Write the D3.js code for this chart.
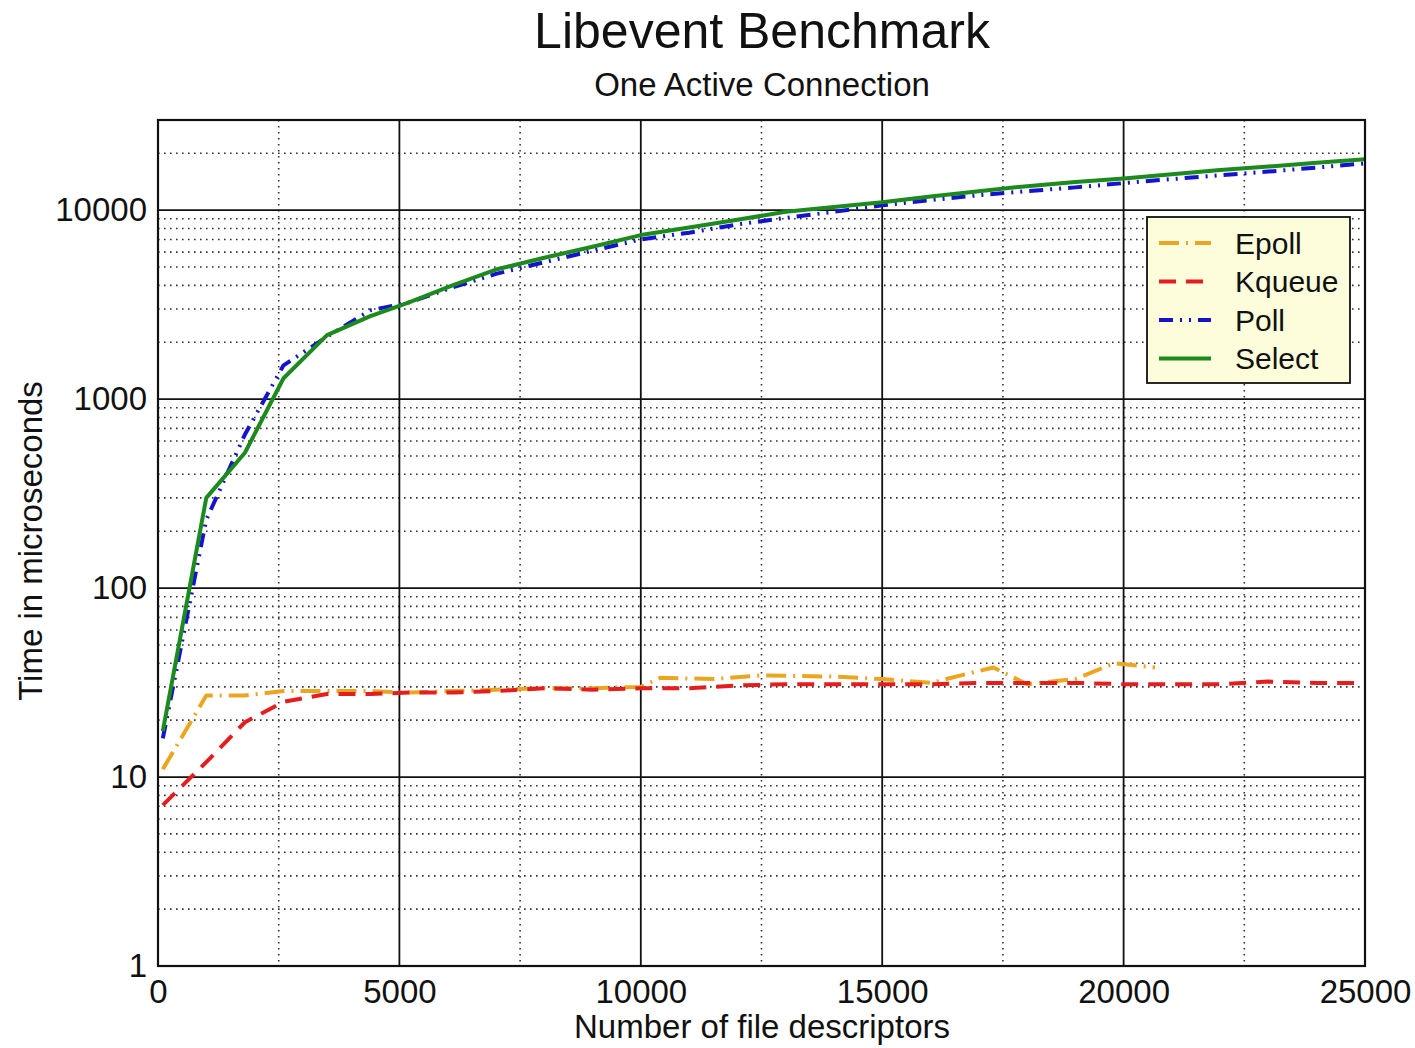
<!DOCTYPE html>
<html>
<head>
<meta charset="utf-8">
<script src="https://cdn.jsdelivr.net/npm/d3@7.9.0/dist/d3.min.js"></script>
<style>
  body { margin: 0; background: #fff; }
  svg { display: block; font-family: "Liberation Sans", Arial, sans-serif; }
</style>
</head>
<body>
<svg id="chart" width="1415" height="1048"></svg>
<script>
// --- data ---
const fds = [100, 1000, 1800, 2600, 3500, 4400, 5200, 6100, 7000, 8000, 9000, 10000,
  11000, 12000, 13000, 14000, 15000, 16000, 17000, 18000, 19000, 20000, 21000, 22000,
  23000, 24000, 25000];

const kqueue = [7.1, 12, 19.5, 25, 27.5, 27.5, 28, 28, 28.5, 29.5, 29, 29.5,
  29.5, 30.5, 31, 31, 31, 31, 31.5, 31.5, 31.5, 31, 31, 31, 32, 31.5, 31.5];

const poll = [16, 230, 650, 1510, 2140, 2950, 3250, 3900, 4600, 5300, 6100, 7000,
  7600, 8400, 9100, 9800, 10600, 11300, 12000, 12600, 13200, 13900, 14600, 15300,
  16000, 16800, 17700];

const select = [17.5, 300, 520, 1290, 2180, 2750, 3250, 4000, 4850, 5600, 6400, 7380,
  8100, 8900, 9800, 10400, 11000, 11800, 12600, 13400, 14100, 14700, 15500, 16300,
  17000, 17800, 18600];

// epoll was sampled on its own points and stops early
const epollFds = [100, 1000, 1800, 2600, 3500, 4400, 5200, 6100, 7000, 8000, 9000, 10000,
  10400, 11500, 12500, 14000, 15000, 16000, 17300, 18000, 19000, 19800, 20650];
const epoll = [11, 27, 27, 28.5, 28.5, 28.5, 28, 28.5, 29, 29.5, 29.5, 30,
  33.5, 33, 34.5, 34, 33, 31.5, 38, 31, 33, 40, 38];

const xTicks = [0, 5000, 10000, 15000, 20000, 25000];
const xMinor = [2500, 7500, 12500, 17500, 22500];
const yTicks = [1, 10, 100, 1000, 10000];

const seriesNames = ['Epoll', 'Kqueue', 'Poll', 'Select'];
const seriesColors = ['#eba520', '#e41e1e', '#1414cc', '#1c8a1c'];
const seriesDash = ['20,7,2,7', '17,10', '14,7,2,7,2,7', null];

// --- layout ---
const svg = d3.select('#chart');
const plotLeft = 158, plotRight = 1365, plotTop = 120, plotBottom = 966;

const x = d3.scaleLinear().domain([0, 25000]).range([plotLeft, plotRight]);
const y = d3.scaleLog().domain([1, 30000]).range([plotBottom, plotTop]);

// minor grid
let yMinor = [];
yTicks.forEach(d => {
  for (let k = 2; k <= 9; k++) {
    if (d * k < 30000) yMinor.push(d * k);
  }
});

const grid = svg.append('g');
grid.selectAll('.hminor').data(yMinor).join('line')
  .attr('x1', plotLeft).attr('x2', plotRight)
  .attr('y1', d => y(d)).attr('y2', d => y(d))
  .attr('stroke', '#333').attr('stroke-width', 1.6)
  .attr('stroke-dasharray', '1.6,4.4');

grid.selectAll('.vminor').data(xMinor).join('line')
  .attr('x1', d => x(d)).attr('x2', d => x(d))
  .attr('y1', plotTop).attr('y2', plotBottom)
  .attr('stroke', '#333').attr('stroke-width', 1.6)
  .attr('stroke-dasharray', '1.6,4.4');

// major grid
grid.selectAll('.hmajor').data(yTicks).join('line')
  .attr('x1', plotLeft).attr('x2', plotRight)
  .attr('y1', d => y(d)).attr('y2', d => y(d))
  .attr('stroke', '#111').attr('stroke-width', 1.8);

grid.selectAll('.vmajor').data(xTicks).join('line')
  .attr('x1', d => x(d)).attr('x2', d => x(d))
  .attr('y1', plotTop).attr('y2', plotBottom)
  .attr('stroke', '#111').attr('stroke-width', 1.8);

// axes (labels only, grid does the lines)
const xAxis = svg.append('g')
  .attr('transform', `translate(0,${plotBottom})`)
  .call(d3.axisBottom(x).tickValues(xTicks).tickSize(0).tickPadding(14).tickFormat(d3.format('d')));
xAxis.select('.domain').remove();
xAxis.selectAll('text').attr('font-size', 33).attr('fill', '#111')
  .attr('font-family', '"Liberation Sans", Arial, sans-serif');

const yAxis = svg.append('g')
  .attr('transform', `translate(${plotLeft},0)`)
  .call(d3.axisLeft(y).tickValues(yTicks).tickSize(0).tickPadding(11).tickFormat(d3.format('d')));
yAxis.select('.domain').remove();
yAxis.selectAll('text').attr('font-size', 33).attr('fill', '#111')
  .attr('font-family', '"Liberation Sans", Arial, sans-serif');

// lines
svg.append('clipPath').attr('id', 'plot-clip')
  .append('rect').attr('x', plotLeft).attr('y', plotTop)
  .attr('width', plotRight - plotLeft).attr('height', plotBottom - plotTop);

const lines = svg.append('g').attr('clip-path', 'url(#plot-clip)');
const seriesData = [
  epollFds.map((f, i) => [f, epoll[i]]),
  fds.map((f, i) => [f, kqueue[i]]),
  fds.map((f, i) => [f, poll[i]]),
  fds.map((f, i) => [f, select[i]])
];

const line = d3.line().x(d => x(d[0])).y(d => y(d[1]));

seriesData.forEach((pts, idx) => {
  lines.append('path')
    .attr('d', line(pts))
    .attr('fill', 'none')
    .attr('stroke', seriesColors[idx])
    .attr('stroke-width', 4)
    .attr('stroke-linejoin', 'round')
    .attr('stroke-dasharray', seriesDash[idx]);
});

// frame
svg.append('rect')
  .attr('x', plotLeft).attr('y', plotTop)
  .attr('width', plotRight - plotLeft).attr('height', plotBottom - plotTop)
  .attr('fill', 'none').attr('stroke', '#111').attr('stroke-width', 2.2);

// titles
svg.append('text').attr('x', 762).attr('y', 48)
  .attr('text-anchor', 'middle').attr('font-size', 50).attr('fill', '#111')
  .text('Libevent Benchmark');
svg.append('text').attr('x', 762).attr('y', 96)
  .attr('text-anchor', 'middle').attr('font-size', 33).attr('fill', '#111')
  .text('One Active Connection');
svg.append('text').attr('x', 762).attr('y', 1038)
  .attr('text-anchor', 'middle').attr('font-size', 33).attr('fill', '#111')
  .text('Number of file descriptors');
svg.append('text').attr('transform', 'translate(42,541) rotate(-90)')
  .attr('text-anchor', 'middle').attr('font-size', 33).attr('fill', '#111')
  .text('Time in microseconds');

// legend
const legend = svg.append('g');
legend.append('rect')
  .attr('x', 1147).attr('y', 217).attr('width', 203).attr('height', 166)
  .attr('fill', '#fdfddc').attr('stroke', '#111').attr('stroke-width', 1.8);

seriesNames.forEach((name, idx) => {
  const ly = 243 + idx * 38.5;
  legend.append('line')
    .attr('x1', 1159).attr('x2', 1211).attr('y1', ly).attr('y2', ly)
    .attr('stroke', seriesColors[idx]).attr('stroke-width', 4)
    .attr('stroke-dasharray', seriesDash[idx]);
  legend.append('text')
    .attr('x', 1235).attr('y', ly).attr('dy', '0.35em')
    .attr('font-size', 30).attr('fill', '#111')
    .text(name);
});
</script>
</body>
</html>
